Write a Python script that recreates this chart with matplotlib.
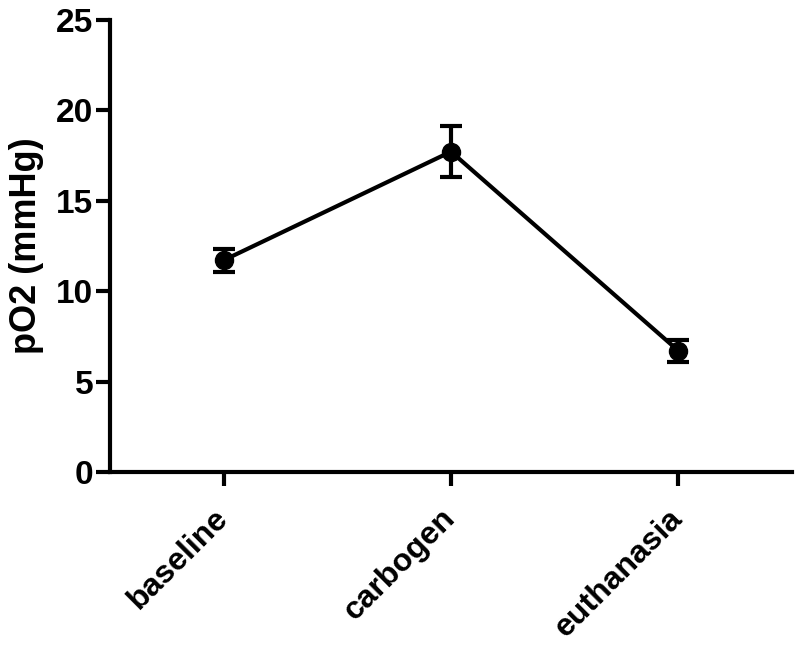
import matplotlib
matplotlib.use("Agg")
import matplotlib.pyplot as plt

categories = ["baseline", "carbogen", "euthanasia"]
means = [11.7, 17.7, 6.7]
err_low = [0.65, 1.4, 0.6]
err_high = [0.6, 1.4, 0.6]
yticks = [0, 5, 10, 15, 20, 25]

plt.rcParams['font.family'] = ['Liberation Sans', 'DejaVu Sans']
plt.rcParams['font.weight'] = 'bold'

fig = plt.figure(figsize=(8, 6.5), dpi=100)
ax = fig.add_axes([0.1375, 0.2738, 0.8525, 0.6962])

x = list(range(len(categories)))
ax.errorbar(x, means, yerr=[err_low, err_high], color='black', lw=3,
            marker='o', markersize=13, capsize=8, capthick=3, elinewidth=3)

ax.set_xlim(-0.5, 2.5)
ax.set_ylim(0, 25)
ax.set_yticks(yticks)
ax.set_yticklabels([str(t) for t in yticks], fontsize=24, fontweight='bold')
ax.set_xticks(x)
ax.set_xticklabels(categories, fontsize=23, fontweight='bold', rotation=45,
                   ha='right', va='center', rotation_mode='anchor')
ax.set_ylabel("pO2 (mmHg)", fontsize=26, fontweight='bold', labelpad=9)

for s in ['top', 'right']:
    ax.spines[s].set_visible(False)
for s in ['left', 'bottom']:
    ax.spines[s].set_linewidth(3)
ax.tick_params(axis='both', width=3, length=10, pad=2)
ax.tick_params(axis='x', pad=20)

fig.savefig("out.png", dpi=100)
